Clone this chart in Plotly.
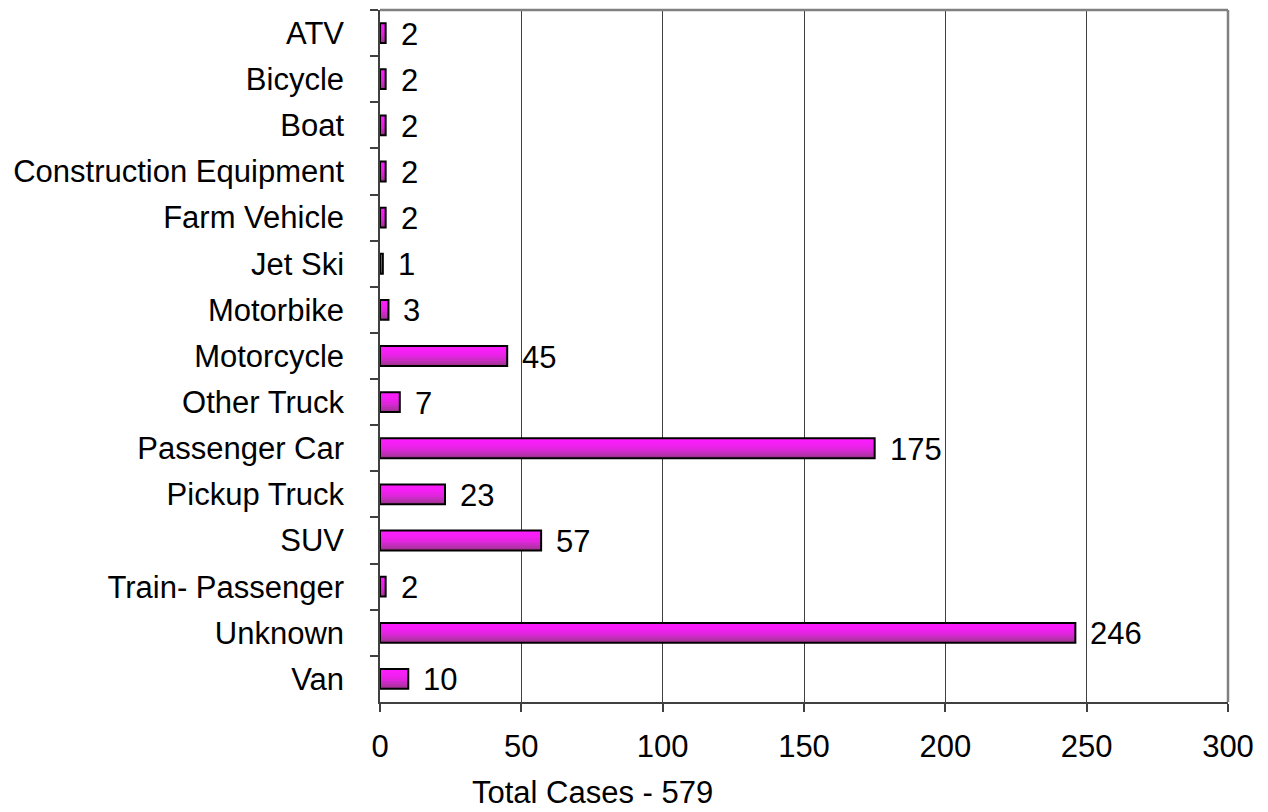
import plotly.graph_objects as go

categories = ["ATV", "Bicycle", "Boat", "Construction Equipment", "Farm Vehicle",
              "Jet Ski", "Motorbike", "Motorcycle", "Other Truck", "Passenger Car",
              "Pickup Truck", "SUV", "Train- Passenger", "Unknown", "Van"]
values = [2, 2, 2, 2, 2, 1, 3, 45, 7, 175, 23, 57, 2, 246, 10]
x_ticks = [0, 50, 100, 150, 200, 250, 300]
footer = "Total Cases - 579"

FONT = "Liberation Sans, Arial, sans-serif"
FS = 31
BAR_W = 0.43
band_colors = ["#fc1efc", "#f81ef8", "#f220f2", "#ea22e8", "#de26da",
               "#cc2cc6", "#b830ae", "#a43296"]

fig = go.Figure()
n = len(band_colors)
bw = BAR_W / n
for i, c in enumerate(band_colors):
    fig.add_trace(go.Bar(
        x=values, y=categories, orientation="h",
        width=BAR_W - i * bw, offset=-BAR_W / 2 + i * bw,
        marker=dict(color=c, line=dict(width=0)),
        hoverinfo="skip", showlegend=False))
# outline
fig.add_trace(go.Bar(
    x=values, y=categories, orientation="h",
    width=BAR_W, offset=-BAR_W / 2,
    marker=dict(color="rgba(0,0,0,0)", line=dict(color="black", width=2)),
    showlegend=False))

for c, v in zip(categories, values):
    fig.add_annotation(x=v, y=c, text=str(v), showarrow=False,
                       xanchor="left", yanchor="middle", xshift=13, yshift=-1,
                       font=dict(family=FONT, size=FS, color="black"))

fig.add_annotation(x=0.25, y=-0.1315, xref="paper", yref="paper",
                   text=footer, showarrow=False, xanchor="center", yanchor="middle",
                   font=dict(family=FONT, size=FS, color="black"))

fig.update_layout(
    barmode="overlay",
    width=1260, height=804,
    margin=dict(l=372, r=40, t=2, b=110),
    paper_bgcolor="white", plot_bgcolor="white",
    font=dict(family=FONT, size=FS, color="black"),
    showlegend=False,
)
fig.update_xaxes(
    range=[0, 300], tickvals=x_ticks, ticktext=[str(t) for t in x_ticks],
    showgrid=True, gridcolor="#404040", gridwidth=1,
    showline=True, linecolor="#404040", linewidth=1.5,
    ticks="outside", ticklen=8, tickcolor="#404040", tickwidth=1.5,
    tickfont=dict(family=FONT, size=FS), zeroline=False,
    ticklabelstandoff=8,
)
fig.update_yaxes(
    categoryorder="array", categoryarray=categories, autorange="reversed",
    showline=True, linecolor="#404040", linewidth=1.5,
    ticks="outside", ticklen=8, tickcolor="#404040", tickwidth=1.5,
    tickson="boundaries", showgrid=False,
    tickfont=dict(family=FONT, size=FS), ticklabelstandoff=28,
)
# gray top/right frame
fig.add_shape(type="line", xref="paper", yref="paper", x0=0, x1=1, y0=1, y1=1,
              line=dict(color="#808080", width=2.5))
fig.add_shape(type="line", xref="paper", yref="paper", x0=1, x1=1, y0=0, y1=1,
              line=dict(color="#808080", width=2.5))

fig.write_html("out.html")
